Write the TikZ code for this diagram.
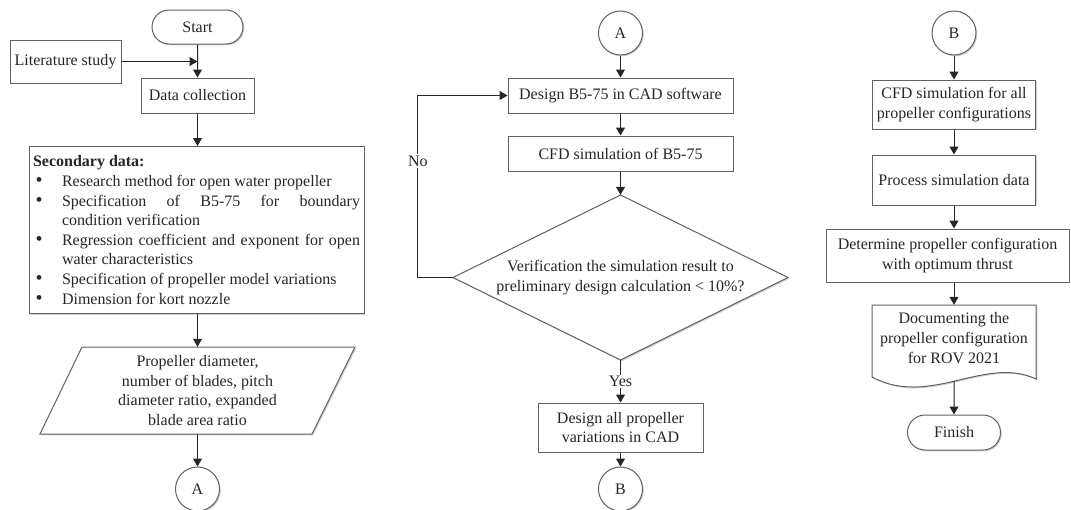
\documentclass[tikz,border=0pt]{standalone}
\usepackage{fontspec}
\setmainfont{Liberation Serif}
\usetikzlibrary{arrows.meta,shapes.misc,shadows}
\newcommand\secitem[1]{\par\noindent\hangindent=29pt\hangafter=1\relax\hbox to 29pt{\hspace{2.5pt}{\fontsize{20}{19.6}\selectfont\textbullet}\hfil}#1\par}
\begin{document}
\begin{tikzpicture}[x=1pt,y=-1pt,
  font=\fontsize{16}{19.6}\selectfont,
  every node/.style={text=black!85},
  shd/.style={drop shadow={shadow xshift=1.3pt,shadow yshift=-1.3pt,fill=black,opacity=0.18}},
  shade/.style={fill=black,opacity=0.18},
  boxline/.style={draw=black!62, line width=1pt, fill=white},
  box/.style={boxline, shd, rectangle, align=center, inner sep=2pt},
  term/.style={boxline, shd, rounded rectangle, inner sep=2pt},
  conn/.style={boxline, shd, circle, minimum size=44pt, inner sep=0pt},
  arr/.style={draw=black!85, line width=1pt, -{Triangle[length=8pt,width=9pt]}},
  lbl/.style={fill=white, inner sep=1.5pt}
]
\useasboundingbox (0,0) rectangle (1071,509);

% ---------- left column ----------
\node[term, minimum width=95pt, minimum height=34pt] (start) at (197.5,27) {Start};
\node[box, minimum width=111pt, minimum height=43pt] (lit) at (65.5,61.5) {Literature study};
\node[box, minimum width=113pt, minimum height=35pt] (data) at (197.5,95.5) {Data collection};
\node[box, anchor=north, text width=327pt, inner xsep=4pt, inner ysep=0pt,
      minimum height=167pt, align=justify] (sec) at (196.5,146) {%
{\bfseries Secondary data:}\par
\secitem{Research method for open water propeller}
\secitem{Specification of B5-75 for boundary\linebreak condition verification}
\secitem{Regression coefficient and exponent for open water characteristics}
\secitem{Specification of propeller model variations}
\secitem{Dimension for kort nozzle}};

\fill[shade] (83.3,348.3)--(356.3,348.3)--(313.3,435.3)--(41.3,435.3)--cycle;
\draw[boxline] (82,347)--(355,347)--(312,434)--(40,434)--cycle;
\node[align=center, minimum height=87pt, inner sep=0pt] (par) at (197.5,390.5)
  {Propeller diameter,\\number of blades, pitch\\diameter ratio, expanded\\blade area ratio};
\node[conn] (ca1) at (197.5,489) {A};

\draw[arr] (start) -- (data);
\coordinate (j) at (start.south |- lit.east);
\draw[arr] (lit) -- (j);
\draw[arr] (data) -- (data.south |- sec.north);
\draw[arr] (par.north |- sec.south) -- (par.north);
\draw[arr] (par) -- (ca1);

% ---------- middle column ----------
\node[conn] (ca2) at (620.5,33) {A};
\node[box, minimum width=225pt, minimum height=35pt] (des) at (620.5,95.5) {Design B5-75 in CAD software};
\node[box, minimum width=225pt, minimum height=35pt] (cfd) at (620.5,153.5) {CFD simulation of B5-75};
\fill[shade] (621.8,196.3)--(789.3,278.8)--(621.8,361.3)--(454.3,278.8)--cycle;
\draw[boxline] (620.5,195)--(788,277.5)--(620.5,360)--(453,277.5)--cycle;
\node[align=center, minimum width=335pt, minimum height=165pt, inner sep=0pt] (dec) at (620.5,277.5)
  {Verification the simulation result to\\preliminary design calculation < 10\%?};
\node[box, minimum width=165pt, minimum height=49pt] (dall) at (620.5,427.5) {Design all propeller\\variations in CAD};
\node[conn] (cb1) at (620.5,489) {B};

\draw[arr] (ca2) -- (des);
\draw[arr] (des) -- (cfd);
\draw[arr] (cfd) -- (dec.north);
\draw[arr] (dec.west) -- ++(-35,0) |- node[lbl, pos=0.32] (nol) {No} (des.west);
\draw[arr] (dec.south) -- node[lbl] (yesl) {Yes} (dall.north);
\draw[arr] (dall) -- (cb1);

% ---------- right column ----------
\node[conn] (cb2) at (954,33) {B};
\node[box, minimum width=163pt, minimum height=49pt] (cfda) at (954,104.5) {CFD simulation for all\\propeller configurations};
\node[box, minimum width=163pt, minimum height=50pt] (proc) at (954,180) {Process simulation data};
\node[box, minimum width=243pt, minimum height=53pt] (det) at (947.5,255.5) {Determine propeller configuration\\with optimum thrust};
\fill[shade] (873.3,306.3)--(1037.3,306.3)--(1037.3,380.3) .. controls (986.3,356.3) and (931.3,409.3) .. (873.3,378.3) -- cycle;
\draw[boxline] (872,305)--(1036,305)--(1036,379) .. controls (985,355) and (930,408) .. (872,377) -- cycle;
\node[align=center, minimum width=164pt, minimum height=66pt, inner sep=0pt] (doc) at (954,338)
  {Documenting the\\propeller configuration\\for ROV 2021};
\coordinate (docb) at ([yshift=-10pt]doc.south);
\node[term, minimum width=97pt, minimum height=35pt] (fin) at (954,432.5) {Finish};

\draw[arr] (cb2) -- (cfda);
\draw[arr] (cfda) -- (proc);
\draw[arr] (proc.south) -- (proc.south |- det.north);
\draw[arr] (doc.north |- det.south) -- (doc.north);
\draw[arr] (docb) -- (fin);
\end{tikzpicture}
\end{document}
